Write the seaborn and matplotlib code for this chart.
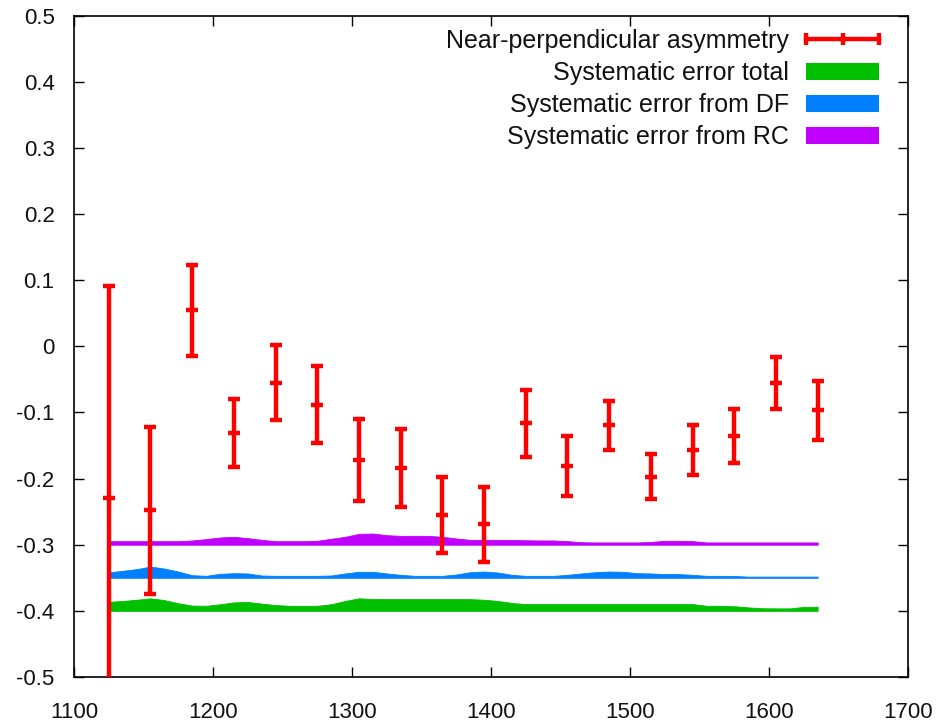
import numpy as np
import matplotlib
matplotlib.use("Agg")
import matplotlib.pyplot as plt
import seaborn as sns
from matplotlib.lines import Line2D
from matplotlib.patches import Patch
from matplotlib.legend_handler import HandlerLine2D

# ---- data -------------------------------------------------------------
asym_x = [1125, 1155, 1185, 1215, 1245, 1275, 1305, 1335, 1365,
          1395, 1425, 1455, 1485, 1515, 1545, 1575, 1605, 1635]
asym_y = [-0.229, -0.248, 0.0545, -0.131, -0.055, -0.088, -0.172, -0.184, -0.255,
          -0.269, -0.1165, -0.181, -0.119, -0.197, -0.157, -0.135, -0.055, -0.097]
asym_err = [0.32, 0.126, 0.069, 0.051, 0.057, 0.058, 0.062, 0.059, 0.057,
            0.057, 0.051, 0.045, 0.037, 0.034, 0.038, 0.041, 0.039, 0.044]

syst_x = list(range(1125, 1636, 10))
syst_total = [0.0137, 0.0150, 0.0168, 0.0190, 0.0163, 0.0115, 0.0080, 0.0077, 0.0100, 0.0128,
              0.0135, 0.0110, 0.0088, 0.0077, 0.0077, 0.0077, 0.0100, 0.0150, 0.0190, 0.0180,
              0.0178, 0.0178, 0.0178, 0.0178, 0.0178, 0.0178, 0.0178, 0.0168, 0.0150, 0.0120,
              0.0103, 0.0103, 0.0103, 0.0103, 0.0103, 0.0103, 0.0103, 0.0103, 0.0103, 0.0103,
              0.0103, 0.0103, 0.0103, 0.0077, 0.0077, 0.0070, 0.0053, 0.0040, 0.0038, 0.0038,
              0.0060, 0.0062]
syst_df = [0.0082, 0.0106, 0.0131, 0.0170, 0.0140, 0.0095, 0.0040, 0.0030, 0.0060, 0.0070,
           0.0066, 0.0035, 0.0030, 0.0030, 0.0030, 0.0030, 0.0035, 0.0066, 0.0091, 0.0091,
           0.0066, 0.0045, 0.0030, 0.0030, 0.0030, 0.0050, 0.0085, 0.0095, 0.0080, 0.0045,
           0.0030, 0.0030, 0.0030, 0.0045, 0.0066, 0.0085, 0.0095, 0.0091, 0.0070, 0.0066,
           0.0056, 0.0056, 0.0045, 0.0030, 0.0030, 0.0028, 0.0018, 0.0018, 0.0018, 0.0018,
           0.0018, 0.0018]
syst_rc = [0.0054, 0.0054, 0.0054, 0.0054, 0.0054, 0.0054, 0.0065, 0.0085, 0.0110, 0.0120,
           0.0100, 0.0075, 0.0054, 0.0054, 0.0054, 0.0060, 0.0090, 0.0120, 0.0165, 0.0170,
           0.0145, 0.0134, 0.0134, 0.0134, 0.0120, 0.0095, 0.0074, 0.0074, 0.0074, 0.0072,
           0.0068, 0.0065, 0.0065, 0.0055, 0.0038, 0.0035, 0.0035, 0.0035, 0.0035, 0.0042,
           0.0060, 0.0060, 0.0055, 0.0035, 0.0035, 0.0035, 0.0035, 0.0035, 0.0035, 0.0035,
           0.0035, 0.0035]
band_offsets = {"total": -0.40, "df": -0.35, "rc": -0.30}

labels = ["Near-perpendicular asymmetry", "Systematic error total",
          "Systematic error from DF", "Systematic error from RC"]
x_ticks = [1100, 1200, 1300, 1400, 1500, 1600, 1700]
y_ticks = [-0.5, -0.4, -0.3, -0.2, -0.1, 0.0, 0.1, 0.2, 0.3, 0.4, 0.5]
y_tick_labels = ["-0.5", "-0.4", "-0.3", "-0.2", "-0.1", "0", "0.1", "0.2", "0.3", "0.4", "0.5"]

colors = {"asym": "#ff0000", "total": "#00c000", "df": "#0080ff", "rc": "#c000ff"}

# ---- style ------------------------------------------------------------
sns.set_style("ticks")
plt.rcParams["font.family"] = ["Liberation Sans", "DejaVu Sans"]
plt.rcParams["axes.unicode_minus"] = False
plt.rcParams["text.color"] = "#111111"

fig = plt.figure(figsize=(9.45, 7.24), dpi=100)
ax = fig.add_axes([74 / 945, 1 - 677 / 724, (908 - 74) / 945, (677 - 15.7) / 724])

sx = np.array(syst_x)
for key, vals in (("total", syst_total), ("df", syst_df), ("rc", syst_rc)):
    base = band_offsets[key]
    ax.fill_between(sx, base, base + np.array(vals), color=colors[key],
                    linewidth=0.6, edgecolor=colors[key], zorder=2)

ax.errorbar(asym_x, asym_y, yerr=asym_err, fmt="_", color=colors["asym"],
            ms=9, mew=3.2, elinewidth=3.2, capsize=4.5, capthick=3.2, zorder=3)

ax.set_xlim(1100, 1700)
ax.set_ylim(-0.5, 0.5)
ax.set_xticks(x_ticks)
ax.set_xticklabels([str(t) for t in x_ticks])
ax.set_yticks(y_ticks)
ax.set_yticklabels(y_tick_labels)
ax.tick_params(direction="in", length=7, width=1, top=True, right=True,
               labelsize=16, colors="black", labelcolor="#111111")
ax.tick_params(axis="y", pad=14)
ax.tick_params(axis="x", pad=18)
for sp in ax.spines.values():
    sp.set_visible(True)
    sp.set_linewidth(1.2)
    sp.set_color("black")

# legend (gnuplot style: text right-aligned, sample on the right)
h_err = Line2D([], [], color=colors["asym"], lw=3.2, marker="|", ms=8, mew=3.2)
h_tot = Patch(facecolor=colors["total"], edgecolor="none")
h_df = Patch(facecolor=colors["df"], edgecolor="none")
h_rc = Patch(facecolor=colors["rc"], edgecolor="none")
leg = ax.legend([h_err, h_tot, h_df, h_rc], labels, loc="upper right",
                bbox_to_anchor=((879 - 74) / 834, 1 - 13 / 661),
                frameon=False, markerfirst=False, fontsize=18,
                handlelength=2.9, handleheight=0.68, handletextpad=0.7,
                labelspacing=0.33, borderpad=0, borderaxespad=0,
                handler_map={h_err: HandlerLine2D(numpoints=3, marker_pad=0)})
for t in leg.get_texts():
    t.set_color("#111111")

fig.savefig("out.png", dpi=100)
